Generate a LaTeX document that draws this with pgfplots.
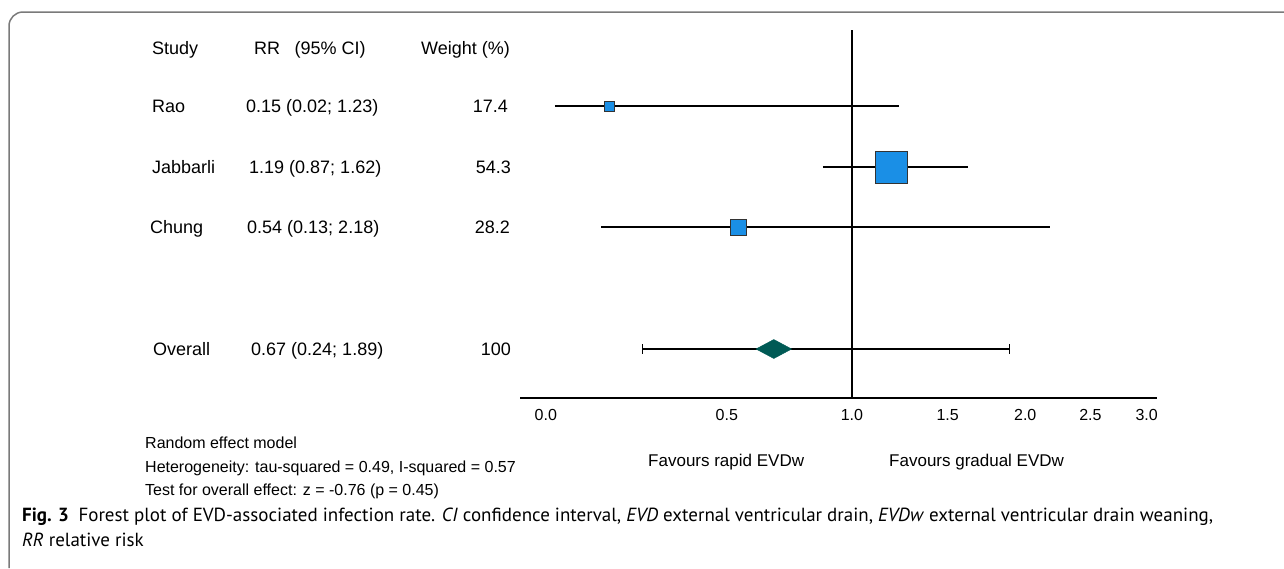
\documentclass[border=0pt]{standalone}
\usepackage{pgfplots}
\pgfplotsset{compat=1.18}
\usepackage{fontspec}
\setmainfont{Liberation Sans}
\newfontfamily\capfont{PT Sans}
\definecolor{sq}{HTML}{1A8FE6}
\definecolor{dia}{HTML}{005A55}
\definecolor{framec}{HTML}{7A7A7A}
\begin{document}
\begin{tikzpicture}[x=1pt,y=1pt]
\useasboundingbox (0,0) rectangle (1284,-568);
\draw[framec, line width=1.5pt] (9,-568) -- (9,-26) arc[start angle=180,end angle=90,radius=14] -- (1284,-12);
\tikzset{t/.style={font=\fontsize{18}{21}\selectfont, inner sep=0pt},
         f/.style={font=\fontsize{17}{20}\selectfont, inner sep=0pt},
         s/.style={font=\fontsize{16}{19}\selectfont, inner sep=0pt}}
% header
\node[t, anchor=base west] at (152,-54) {Study};
\node[t, anchor=base west] at (254,-54) {RR\hspace{0.8em}(95\% CI)};
\node[t, anchor=base east] at (510,-54) {Weight (\%)};
% rows
\node[t, anchor=base west] at (152,-112) {Rao};
\node[t, anchor=base west] at (246,-112) {0.15 (0.02; 1.23)};
\node[t, anchor=base east] at (508,-112) {17.4};
\node[t, anchor=base west] at (152,-173) {Jabbarli};
\node[t, anchor=base west] at (249,-173) {1.19 (0.87; 1.62)};
\node[t, anchor=base east] at (511,-173) {54.3};
\node[t, anchor=base west] at (150,-233) {Chung};
\node[t, anchor=base west] at (247,-233) {0.54 (0.13; 2.18)};
\node[t, anchor=base east] at (510,-233) {28.2};
\node[t, anchor=base west] at (153,-355) {Overall};
\node[t, anchor=base west] at (251,-355) {0.67 (0.24; 1.89)};
\node[t, anchor=base east] at (511,-355) {100};
\begin{axis}[at={(520pt,-398pt)}, anchor=south west, scale only axis,
  width=637pt, height=368pt,
  x coord trafo/.code={\pgfmathparse{ln(#1+0.9)}},
  x coord inv trafo/.code={\pgfmathparse{exp(#1)-0.9}},
  xmin=-0.055, xmax=3.1, ymin=-398, ymax=-30,
  axis x line*=bottom, axis y line=none,
  xtick={0,0.5,1,1.5,2,2.5,3},
  xticklabels={0.0,0.5,1.0,1.5,2.0,2.5,3.0},
  major tick length=0pt,
  xticklabel style={font=\fontsize{16}{19}\selectfont, anchor=north, inner sep=0pt, yshift=-11pt},
  axis line style={line width=1.2pt},
  clip=false]
\addplot[black, line width=1.6pt] coordinates {(1,-30) (1,-398)};
% squares
\addplot[only marks, mark=square*, mark size=5pt, mark options={fill=sq, draw=black!80, line width=1pt}] coordinates {(0.15,-106)};
\addplot[only marks, mark=square*, mark size=16pt, mark options={fill=sq, draw=black!80, line width=1pt}] coordinates {(1.19,-167)};
\addplot[only marks, mark=square*, mark size=8pt, mark options={fill=sq, draw=black!80, line width=1pt}] coordinates {(0.54,-227)};
% CIs
\addplot[black, line width=2.4pt] coordinates {(0.02,-106) (1.23,-106)};
\addplot[black, line width=2.4pt] coordinates {(0.87,-167) (1.62,-167)};
\addplot[black, line width=2.4pt] coordinates {(0.13,-227) (2.18,-227)};
% overall
\addplot[only marks, mark=diamond*, mark size=9.5pt, mark options={xscale=2.5, fill=dia, draw=dia}] coordinates {(0.67,-349)};
\addplot[black, line width=1.4pt, mark=|, mark size=5pt, mark options={line width=1.4pt}] coordinates {(0.24,-349) (1.89,-349)};
\end{axis}
\node[f, anchor=base west] at (648,-466) {Favours rapid EVDw};
\node[f, anchor=base west] at (889,-466) {Favours gradual EVDw};
\node[s, anchor=base west] at (145,-448) {Random effect model};
\node[s, anchor=base west] at (145,-472) {Heterogeneity: tau-squared = 0.49, I-squared = 0.57};
\node[s, anchor=base west] at (145,-495) {Test for overall effect: z = -0.76 (p = 0.45)};
\node[anchor=base west, inner sep=0pt, font=\capfont\fontsize{19}{22}\selectfont] at (22,-521) {\textbf{Fig. 3}\hspace{0.5em}Forest plot of EVD-associated infection rate. \textit{CI} confidence interval, \textit{EVD} external ventricular drain, \textit{EVDw} external ventricular drain weaning,};
\node[anchor=base west, inner sep=0pt, font=\capfont\fontsize{19}{22}\selectfont] at (22,-546) {\textit{RR} relative risk};
\end{tikzpicture}
\end{document}
